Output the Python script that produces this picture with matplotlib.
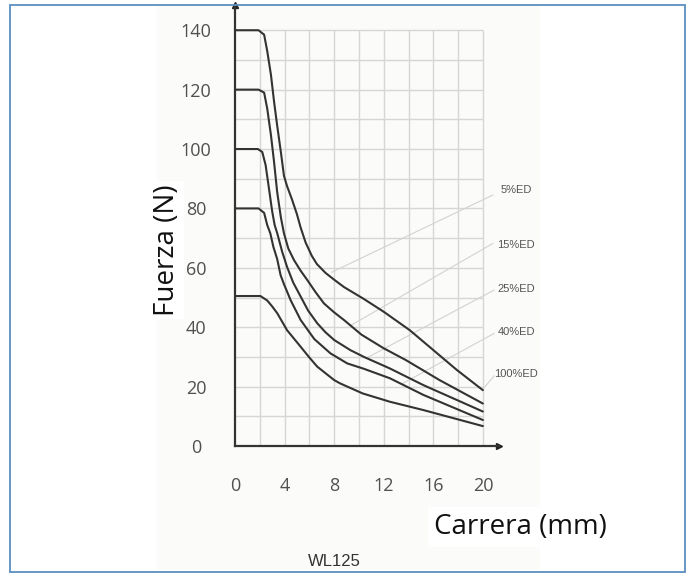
import numpy as np
import matplotlib
matplotlib.use('Agg')
import matplotlib.pyplot as plt
from matplotlib.patches import Rectangle

# Curvas fuerza-carrera (carrera mm, fuerza N)
x_5ed = [0, 1.9, 2.35, 2.6, 2.9, 3.15, 3.4, 3.7, 3.95, 4.2, 4.6, 5.0, 5.3, 5.7, 6.2, 6.6, 7.3, 8.0, 8.8, 9.8, 10.4, 12.0, 14.1, 16.0, 17.9, 20.0]
y_5ed = [140, 140, 138.5, 133, 125, 116, 108, 99, 91, 87.5, 83, 78, 73.5, 68.5, 64, 61.3, 58.3, 56, 53.5, 51, 49.5, 45.2, 39, 32.3, 25.6, 18.8]

x_15ed = [0, 1.9, 2.35, 2.6, 2.9, 3.15, 3.4, 3.7, 3.95, 4.3, 4.76, 5.3, 5.83, 6.5, 7.18, 8.0, 8.8, 10.2, 12.0, 13.8, 16.5, 20.0]
y_15ed = [120, 120, 119, 113.6, 104.7, 95.7, 85.6, 77, 71.6, 66.5, 62.6, 59, 55.9, 51.8, 48, 45, 42.4, 37.5, 32.9, 28.9, 22.2, 14.3]

x_25ed = [0, 1.85, 2.2, 2.47, 2.74, 3.0, 3.2, 3.41, 3.8, 4.2, 4.7, 5.3, 5.9, 6.64, 7.3, 8.0, 9.3, 10.4, 12.5, 15.2, 20.0]
y_25ed = [100, 100, 99, 94.6, 86.7, 79, 74.4, 71.6, 65.5, 60.3, 55, 50.3, 45.6, 41.3, 38.3, 35.7, 32.3, 30, 26.1, 20.5, 11.6]

x_40ed = [0, 1.9, 2.35, 2.6, 2.85, 3.1, 3.4, 3.68, 3.95, 4.5, 5.3, 6.4, 7.7, 9.06, 10.4, 12.5, 15.2, 20.0]
y_40ed = [80, 80, 78.5, 74.4, 71.6, 67, 63, 57.5, 54.5, 49, 42.4, 36, 31.2, 27.8, 26, 22.8, 17.2, 8.75]

x_100ed = [0, 2.05, 2.6, 3.0, 3.41, 4.2, 5.3, 6.0, 6.64, 8.0, 8.47, 10.3, 12.5, 15.2, 20.0]
y_100ed = [50.5, 50.5, 49, 47, 44.7, 39, 33.4, 29.8, 26.7, 22.2, 21.1, 17.7, 14.9, 12.1, 6.7]

etiquetas = ['5%ED', '15%ED', '25%ED', '40%ED', '100%ED']
# posicion de cada etiqueta y punto donde toca la linea guia
etiqueta_y = [86.2, 67.7, 52.8, 38.4, 24.2]
guia_ini = [(20.8, 84.5), (20.8, 68.2), (20.9, 52.5), (20.9, 37.9), (20.9, 23.6)]
guia_fin = [(7.8, 58.5), (9.3, 40.5), (10.6, 29.6), (13.5, 21.0), (20.1, 19.6)]

x_ticks = [0, 4, 8, 12, 16, 20]
y_ticks = [0, 20, 40, 60, 80, 100, 120, 140]

fig = plt.figure(figsize=(6.95, 5.73), dpi=100)
W, H = 695, 573

# marco azul y fondo del grafico original
fig.patches.append(Rectangle((10 / W, 1 - 572 / H), 675 / W, 567 / H, transform=fig.transFigure,
                             fill=False, edgecolor='#5b8fc0', linewidth=1.3))
fig.patches.append(Rectangle((157 / W, 1 - 570 / H), 383 / W, 565 / H, transform=fig.transFigure,
                             facecolor='#fbfbf9', edgecolor='none', zorder=-1))

ax = fig.add_axes([235 / W, 127 / H, 264 / W, 441 / H])
ax.set_facecolor('none')
ax.set_xlim(0, 21.3)
ax.set_ylim(0, 148.5)

# rejilla
ax.hlines(np.arange(10, 141, 10), 0, 20, color='#d6d6d6', linewidth=1.0, zorder=1)
ax.vlines(np.arange(2, 21, 2), 0, 140, color='#d6d6d6', linewidth=1.0, zorder=1)

# lineas guia de las etiquetas
for (x0, y0), (x1, y1) in zip(guia_ini, guia_fin):
    ax.plot([x0, x1], [y0, y1], color='#d2d2d2', linewidth=0.8, zorder=2, clip_on=False)

for xs, ys in [(x_5ed, y_5ed), (x_15ed, y_15ed), (x_25ed, y_25ed), (x_40ed, y_40ed), (x_100ed, y_100ed)]:
    ax.plot(xs, ys, color='#333333', linewidth=1.5, zorder=3,
            solid_joinstyle='round', solid_capstyle='round')

for lab, yy in zip(etiquetas, etiqueta_y):
    ax.text(22.7, yy, lab, fontsize=8, color='#555555', ha='center', va='center',
            family=['Liberation Sans Narrow', 'Liberation Sans'], clip_on=False)

for s in ['top', 'right']:
    ax.spines[s].set_visible(False)
for s in ['left', 'bottom']:
    ax.spines[s].set_color('#333333')
    ax.spines[s].set_linewidth(1.6)
ax.plot(1, 0, '>', color='#222222', markersize=5, transform=ax.transAxes, clip_on=False)
ax.plot(0, 1, '^', color='#222222', markersize=5, transform=ax.transAxes, clip_on=False)

ax.set_xticks(x_ticks)
ax.set_yticks(y_ticks)
ax.set_xticklabels([str(v) for v in x_ticks], fontsize=13, color='#505050', family='Open Sans')
ax.set_yticklabels([str(v) for v in y_ticks], fontsize=13, color='#505050', family='Open Sans', ha='center')
ax.tick_params(axis='x', length=0, pad=22)
ax.tick_params(axis='y', length=0, pad=28)

fig.text(167 / W, 1 - 250 / H, 'Fuerza (N)', rotation=90, fontsize=20, family='Open Sans',
         ha='center', va='center', color='#111111',
         bbox=dict(facecolor='white', edgecolor='none', pad=2))
fig.text(520 / W, 1 - 527 / H, 'Carrera (mm)', fontsize=20, family='Open Sans',
         ha='center', va='center', color='#111111',
         bbox=dict(facecolor='white', edgecolor='none', pad=4))
fig.text(334 / W, 1 - 562 / H, 'WL125', fontsize=12, family='Liberation Sans',
         ha='center', va='center', color='#333333')

fig.savefig('out.png', dpi=100)
